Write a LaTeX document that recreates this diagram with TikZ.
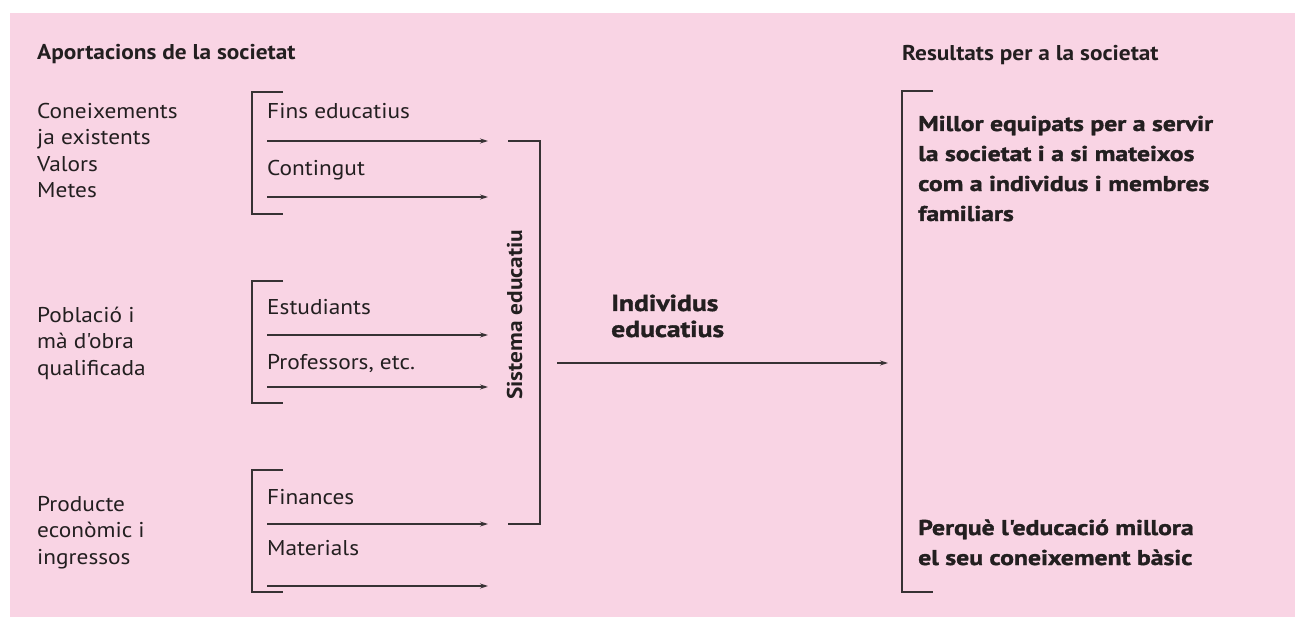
\documentclass[tikz,border=0pt]{standalone}
\usepackage{fontspec}
\setmainfont{PT Sans}[FakeStretch=1.09, Ligatures=TeXOff]
\newfontfamily\heavyfont{PT Sans}[FakeStretch=1.2, Ligatures=TeXOff, BoldFeatures={FakeBold=1.5}]
\usetikzlibrary{arrows.meta}
\definecolor{pinkbg}{RGB}{249,212,228}
\definecolor{ink}{RGB}{35,31,32}
\definecolor{rule}{RGB}{55,50,52}
\tikzset{
  txt/.style={inner sep=0pt, anchor=base west, align=left, text=ink,
    font=\fontsize{21.4}{26.5}\selectfont},
  head/.style={txt, font=\bfseries\fontsize{21.4}{26.5}\selectfont},
  res/.style={txt, font=\heavyfont\bfseries\fontsize{21.4}{30}\selectfont},
  brk/.style={draw=rule, line width=1.2pt},
  flow/.style={draw=rule, line width=1.1pt, -{Stealth[length=8pt,width=5pt]}},
}
\begin{document}
\begin{tikzpicture}[x=1pt,y=-1pt]
\useasboundingbox (0,0) rectangle (1295,617);
\fill[pinkbg] (10,13) rectangle (1295,617);

% column headings
\node[head] (hin) at (37,60) {Aportacions de la societat};
\node[head] (hout) at (902,60.5) {Resultats per a la societat};

% contributions of society (positioned at the baseline of the last line)
\node[txt] (know) at (37,198) {Coneixements\\ja existents\\Valors\\Metes};
\node[txt] (pop) at (37,375) {Població i\\mà d'obra\\qualificada};
\node[txt] (econ) at (37,564) {Producte\\econòmic i\\ingressos};

% input groups: bracket top/bottom, label baselines, arrow heights
\foreach \T/\B/\ya/\aa/\yb/\ab/\la/\lb/\g in {
    92/214/119/141/176/197/Fins educatius/Contingut/a,
    281/403/315/335/369/387/Estudiants/{Professors, etc.}/b,
    470/592/504/524/555/586/Finances/Materials/c}{
  \draw[brk] (283,\T) -- (252,\T) -- (252,\B) -- (283,\B);
  \node[txt] (lab\g1) at (267,\ya) {\la};
  \node[txt] (lab\g2) at (267,\yb) {\lb};
  \coordinate (s\g1) at (267,\aa);
  \coordinate (e\g1) at (488,\aa);
  \coordinate (s\g2) at (267,\ab);
  \coordinate (e\g2) at (488,\ab);
  \draw[flow] (s\g1) -- (e\g1);
  \draw[flow] (s\g2) -- (e\g2);
}

% educational system
\draw[brk] (508,141) -- (540,141) -- (540,524) -- (508,524);
\node[head, rotate=90, anchor=base west] (sys) at (522,400) {Sistema educatiu};

% output
\node[res, font=\heavyfont\bfseries\fontsize{23}{26}\selectfont] (ind) at (611,337) {Individus\\educatius};
\coordinate (os) at (557,363);
\coordinate (oe) at (888,363);
\draw[flow] (os) -- (oe);

% results for society
\draw[brk] (933,91) -- (902,91) -- (902,592) -- (933,592);
\node[res] (r1) at (918,221) {Millor equipats per a servir\\la societat i a si mateixos\\com a individus i membres\\familiars};
\node[res] (r2) at (918,565) {Perquè l'educació millora\\el seu coneixement bàsic};
\end{tikzpicture}
\end{document}
